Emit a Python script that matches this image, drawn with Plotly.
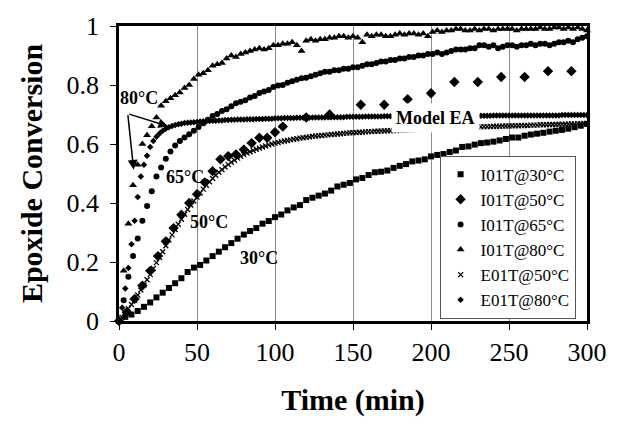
import plotly.graph_objects as go

# ---------------- data ----------------
# I01T@30°C, sampled every 4 min from 0 to 300
t_i30 = list(range(0, 301, 4))
v_i30 = [0.000, 0.014, 0.022, 0.034, 0.048, 0.063, 0.080, 0.096, 0.112, 0.128,
         0.145, 0.166, 0.181, 0.190, 0.205, 0.220, 0.235, 0.250, 0.264, 0.279,
         0.293, 0.305, 0.315, 0.330, 0.339, 0.352, 0.361, 0.375, 0.385, 0.393,
         0.410, 0.418, 0.425, 0.432, 0.442, 0.456, 0.462, 0.468, 0.480, 0.485,
         0.495, 0.504, 0.506, 0.510, 0.519, 0.526, 0.532, 0.541, 0.544, 0.548,
         0.558, 0.563, 0.566, 0.573, 0.578, 0.590, 0.592, 0.598, 0.603, 0.605,
         0.608, 0.612, 0.617, 0.622, 0.622, 0.628, 0.632, 0.635, 0.638, 0.642,
         0.645, 0.648, 0.652, 0.657, 0.662, 0.668]

# I01T@50°C, irregular sampling
t_i50 = [0, 5, 10, 15, 20, 25, 30, 35, 40, 45, 50, 55, 60, 65, 70, 75, 80, 85,
         90, 95, 100, 105, 120, 135, 155, 170, 185, 200, 215, 230, 245, 260, 275, 290]
v_i50 = [0.000, 0.030, 0.075, 0.120, 0.170, 0.220, 0.270, 0.315, 0.360, 0.400,
         0.430, 0.470, 0.508, 0.548, 0.559, 0.565, 0.581, 0.603, 0.621, 0.621,
         0.640, 0.659, 0.690, 0.700, 0.733, 0.733, 0.752, 0.772, 0.810, 0.810,
         0.827, 0.827, 0.847, 0.847]

# I01T@65°C, every 3 min
t_i65 = list(range(0, 301, 3))
v_i65 = [0.000, 0.070, 0.150, 0.220, 0.280, 0.340, 0.390, 0.440, 0.490, 0.520,
         0.550, 0.575, 0.595, 0.610, 0.622, 0.633, 0.645, 0.658, 0.670, 0.682,
         0.695, 0.702, 0.712, 0.718, 0.728, 0.738, 0.743, 0.748, 0.758, 0.763,
         0.773, 0.778, 0.783, 0.793, 0.798, 0.800, 0.808, 0.813, 0.818, 0.823,
         0.825, 0.830, 0.835, 0.840, 0.845, 0.845, 0.850, 0.850, 0.855, 0.855,
         0.860, 0.860, 0.865, 0.870, 0.870, 0.875, 0.880, 0.880, 0.885, 0.885,
         0.890, 0.890, 0.895, 0.895, 0.900, 0.900, 0.905, 0.905, 0.910, 0.905,
         0.910, 0.915, 0.920, 0.920, 0.920, 0.925, 0.925, 0.935, 0.935, 0.930,
         0.935, 0.925, 0.930, 0.935, 0.935, 0.930, 0.935, 0.935, 0.940, 0.935,
         0.940, 0.940, 0.935, 0.940, 0.945, 0.945, 0.950, 0.945, 0.955, 0.960,
         0.965]

# I01T@80°C, every 3 min
t_i80 = list(range(0, 301, 3))
v_i80 = [0.000, 0.170, 0.330, 0.460, 0.530, 0.600, 0.630, 0.660, 0.690, 0.730,
         0.745, 0.755, 0.765, 0.775, 0.790, 0.800, 0.820, 0.835, 0.840, 0.850,
         0.865, 0.870, 0.875, 0.890, 0.900, 0.895, 0.905, 0.910, 0.915, 0.920,
         0.925, 0.920, 0.925, 0.935, 0.935, 0.940, 0.940, 0.945, 0.935, 0.915,
         0.950, 0.955, 0.950, 0.955, 0.955, 0.960, 0.960, 0.965, 0.965, 0.960,
         0.965, 0.960, 0.945, 0.970, 0.965, 0.970, 0.970, 0.965, 0.965, 0.970,
         0.975, 0.970, 0.975, 0.975, 0.970, 0.975, 0.965, 0.980, 0.985, 0.980,
         0.985, 0.985, 0.990, 0.990, 0.985, 0.985, 0.990, 0.985, 0.990, 0.990,
         0.985, 0.990, 0.990, 0.990, 0.990, 0.985, 0.990, 0.990, 0.990, 0.990,
         0.995, 0.990, 0.990, 0.995, 0.995, 0.990, 0.995, 0.990, 0.995, 0.990,
         0.985]

# E01T@50°C, every 2 min
t_e50 = list(range(0, 301, 2))
v_e50 = [0.000, 0.013, 0.027, 0.042, 0.056, 0.070, 0.088, 0.105, 0.122, 0.140,
         0.158, 0.178, 0.198, 0.215, 0.235, 0.255, 0.275, 0.292, 0.310, 0.328,
         0.345, 0.362, 0.378, 0.393, 0.407, 0.420, 0.434, 0.447, 0.460, 0.472,
         0.483, 0.494, 0.504, 0.513, 0.522, 0.530, 0.538, 0.545, 0.552, 0.558,
         0.564, 0.569, 0.574, 0.578, 0.582, 0.586, 0.590, 0.593, 0.597, 0.600,
         0.603, 0.605, 0.608, 0.610, 0.612, 0.614, 0.616, 0.618, 0.620, 0.621,
         0.623, 0.624, 0.626, 0.627, 0.628, 0.629, 0.630, 0.631, 0.632, 0.633,
         0.634, 0.635, 0.636, 0.637, 0.638, 0.638, 0.639, 0.640, 0.640, 0.641,
         0.642, 0.642, 0.643, 0.643, 0.644, 0.644, 0.645, 0.645, 0.646, 0.646,
         0.647, 0.647, 0.648, 0.648, 0.649, 0.649, 0.650, 0.650, 0.651, 0.651,
         0.652, 0.652, 0.653, 0.653, 0.654, 0.654, 0.654, 0.655, 0.655, 0.656,
         0.656, 0.656, 0.657, 0.657, 0.658, 0.658, 0.658, 0.659, 0.659, 0.659,
         0.660, 0.660, 0.660, 0.661, 0.661, 0.661, 0.662, 0.662, 0.662, 0.663,
         0.663, 0.663, 0.664, 0.664, 0.664, 0.665, 0.665, 0.665, 0.666, 0.666,
         0.666, 0.667, 0.667, 0.667, 0.668, 0.668, 0.668, 0.669, 0.669, 0.670,
         0.670]

# E01T@80°C, every 2 min
t_e80 = list(range(0, 301, 2))
v_e80 = [0.000, 0.045, 0.110, 0.180, 0.260, 0.340, 0.420, 0.490, 0.530, 0.560,
         0.590, 0.610, 0.625, 0.636, 0.645, 0.652, 0.657, 0.661, 0.664, 0.667,
         0.669, 0.671, 0.672, 0.673, 0.674, 0.675, 0.676, 0.677, 0.677, 0.678,
         0.679, 0.679, 0.680, 0.680, 0.681, 0.681, 0.682, 0.682, 0.683, 0.683,
         0.683, 0.684, 0.684, 0.684, 0.685, 0.685, 0.685, 0.686, 0.686, 0.686,
         0.687, 0.687, 0.687, 0.688, 0.688, 0.688, 0.688, 0.689, 0.689, 0.689,
         0.689, 0.689, 0.690, 0.690, 0.690, 0.690, 0.690, 0.691, 0.691, 0.691,
         0.691, 0.691, 0.691, 0.692, 0.692, 0.692, 0.692, 0.692, 0.692, 0.693,
         0.693, 0.693, 0.693, 0.693, 0.693, 0.694, 0.694, 0.694, 0.694, 0.694,
         0.694, 0.694, 0.694, 0.695, 0.695, 0.695, 0.695, 0.695, 0.695, 0.695,
         0.695, 0.695, 0.695, 0.696, 0.696, 0.696, 0.696, 0.696, 0.696, 0.696,
         0.696, 0.696, 0.696, 0.696, 0.696, 0.696, 0.696, 0.696, 0.696, 0.696,
         0.697, 0.697, 0.697, 0.697, 0.697, 0.697, 0.697, 0.697, 0.697, 0.697,
         0.697, 0.697, 0.697, 0.697, 0.697, 0.697, 0.697, 0.697, 0.697, 0.697,
         0.697, 0.697, 0.698, 0.698, 0.698, 0.698, 0.698, 0.698, 0.698, 0.698,
         0.698]

series_names = ["I01T@30°C", "I01T@50°C", "I01T@65°C", "I01T@80°C",
                "E01T@50°C", "E01T@80°C"]

# annotation labels
label_texts = ["80°C", "65°C", "50°C", "30°C", "Model EA"]
label_x = [13, 42.5, 57.5, 89.5, 203]
label_y = [0.755, 0.487, 0.336, 0.215, 0.688]

# ---------------- figure ----------------
SERIF = "Liberation Serif, Times New Roman, serif"
fig = go.Figure()

styles = [
    dict(symbol="square", size=6),
    dict(symbol="diamond", size=8),
    dict(symbol="circle", size=6),
    dict(symbol="triangle-up", size=7),
    dict(symbol="x-thin", size=5),
    dict(symbol="diamond", size=5),
]
data = [(t_i30, v_i30), (t_i50, v_i50), (t_i65, v_i65), (t_i80, v_i80),
        (t_e50, v_e50), (t_e80, v_e80)]

for name, (tx, vy), st in zip(series_names, data, styles):
    thin = st["symbol"].endswith("thin")
    fig.add_trace(go.Scatter(
        x=tx, y=vy, mode="markers", name=name, cliponaxis=False,
        marker=dict(color="black", symbol=st["symbol"], size=st["size"],
                    line=dict(width=1.3 if thin else 0, color="black")),
    ))

for txt, xx, yy in zip(label_texts, label_x, label_y):
    fig.add_annotation(
        x=xx, y=yy, xref="x", yref="y", text=txt, showarrow=False,
        font=dict(family=SERIF, size=18, color="black", weight="bold"),
        bgcolor="white" if txt == "Model EA" else "rgba(0,0,0,0)",
        borderpad=4 if txt == "Model EA" else 0,
    )

# arrows from the "80°C" label
arrow_tail = (5.6, 0.703)
arrow_heads = [(31.5, 0.660), (9.4, 0.513)]
for hx, hy in arrow_heads:
    fig.add_annotation(
        x=hx, y=hy, ax=arrow_tail[0], ay=arrow_tail[1],
        xref="x", yref="y", axref="x", ayref="y",
        text="", showarrow=True, arrowhead=2, arrowsize=1.3,
        arrowwidth=1.5, arrowcolor="black",
    )

fig.update_layout(
    width=619, height=424,
    margin=dict(l=119, r=20, t=25, b=101),
    paper_bgcolor="white", plot_bgcolor="white",
    font=dict(family=SERIF, color="black"),
    showlegend=True,
    legend=dict(
        x=0.685, y=0.008, xanchor="left", yanchor="bottom",
        bgcolor="white", bordercolor="#555", borderwidth=1,
        font=dict(family=SERIF, size=17, color="black"),
        itemwidth=30, tracegroupgap=0,
    ),
)

fig.update_xaxes(
    range=[0, 300], dtick=50, tick0=0,
    showgrid=True, gridcolor="#8c8c8c", gridwidth=1, zeroline=False,
    showline=True, linecolor="black", linewidth=2.5, mirror=True,
    ticks="outside", ticklen=6, tickcolor="black", tickwidth=1,
    tickfont=dict(family=SERIF, size=26, color="black"),
    title=dict(text="Time (min)", standoff=24,
               font=dict(family=SERIF, size=30, color="black", weight="bold")),
)
fig.update_yaxes(
    range=[0, 1], dtick=0.2, tick0=0,
    showgrid=False, zeroline=False,
    showline=True, linecolor="black", linewidth=2.5, mirror=True,
    ticks="outside", ticklen=6, tickcolor="black", tickwidth=1,
    ticklabelstandoff=6,
    tickfont=dict(family=SERIF, size=26, color="black"),
    title=dict(text="Epoxide Conversion", standoff=16,
               font=dict(family=SERIF, size=30, color="black", weight="bold")),
)

fig.write_html("out.html")
